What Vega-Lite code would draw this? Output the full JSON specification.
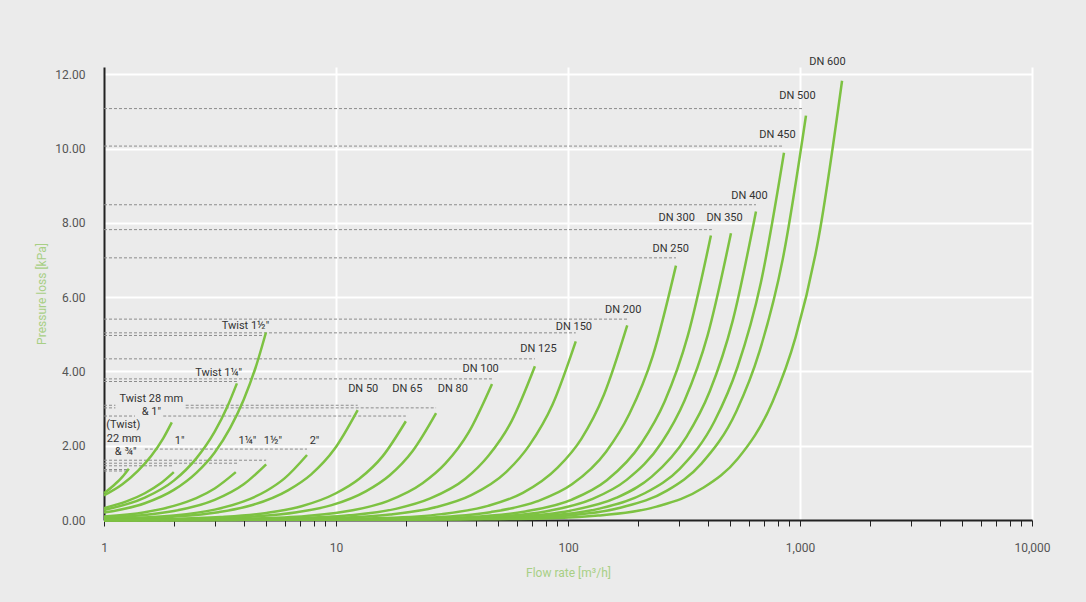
{
  "$schema": "https://vega.github.io/schema/vega-lite/v6.json",
  "width": 928,
  "height": 453,
  "autosize": {"type": "none"},
  "padding": {"left": 104, "top": 67, "right": 54, "bottom": 82},
  "background": "#ebebeb",
  "config": {"view": {"stroke": null}, "font": "Roboto"},
  "datasets": {
    "leaders": [
      {"q": 1, "q2": 1040, "p": 11.08},
      {"q": 1, "q2": 853, "p": 10.07},
      {"q": 1, "q2": 646, "p": 8.49},
      {"q": 1, "q2": 417, "p": 7.82},
      {"q": 1, "q2": 292, "p": 7.06},
      {"q": 1, "q2": 180, "p": 5.41},
      {"q": 1, "q2": 108, "p": 5.04},
      {"q": 1, "q2": 4.99, "p": 4.97},
      {"q": 1, "q2": 72, "p": 4.34},
      {"q": 1, "q2": 47, "p": 3.8},
      {"q": 1, "q2": 3.74, "p": 3.73},
      {"q": 1, "q2": 1.12, "p": 3.09},
      {"q": 2.25, "q2": 12.4, "p": 3.09},
      {"q": 1, "q2": 1.12, "p": 3.02},
      {"q": 2.25, "q2": 27, "p": 3.02},
      {"q": 1, "q2": 1.36, "p": 2.8},
      {"q": 1.8, "q2": 20, "p": 2.8},
      {"q": 1.5, "q2": 7.5, "p": 1.91},
      {"q": 1, "q2": 5, "p": 1.61},
      {"q": 1, "q2": 3.8, "p": 1.53},
      {"q": 1, "q2": 2, "p": 1.46},
      {"q": 1, "q2": 1.28, "p": 1.36},
      {"q": 1, "q2": 1.28, "p": 1.32}
    ],
    "labels": [
      {"t": "DN 600", "q": 1313, "p": 12.34},
      {"t": "DN 500", "q": 975, "p": 11.42},
      {"t": "DN 450", "q": 800, "p": 10.38},
      {"t": "DN 400", "q": 606, "p": 8.73},
      {"t": "DN 300", "q": 294, "p": 8.13},
      {"t": "DN 350", "q": 473, "p": 8.13},
      {"t": "DN 250", "q": 277, "p": 7.3},
      {"t": "DN 200", "q": 173, "p": 5.65},
      {"t": "DN 150", "q": 106, "p": 5.19},
      {"t": "DN 125", "q": 74.6, "p": 4.6},
      {"t": "DN 100", "q": 42, "p": 4.08},
      {"t": "DN 50", "q": 13.1, "p": 3.52},
      {"t": "DN 65", "q": 20.3, "p": 3.52},
      {"t": "DN 80", "q": 31.9, "p": 3.52},
      {"t": "Twist 1½\"", "q": 4.07, "p": 5.22},
      {"t": "Twist 1¼\"", "q": 3.12, "p": 3.95},
      {"t": "Twist 28 mm", "q": 1.6, "p": 3.25},
      {"t": "& 1\"", "q": 1.6, "p": 2.9},
      {"t": "(Twist)", "q": 1.21, "p": 2.56},
      {"t": "22 mm", "q": 1.22, "p": 2.18},
      {"t": "& ¾\"", "q": 1.24, "p": 1.83},
      {"t": "1\"", "q": 2.12, "p": 2.12},
      {"t": "1¼\"", "q": 4.15, "p": 2.12},
      {"t": "1½\"", "q": 5.35, "p": 2.12},
      {"t": "2\"", "q": 8.08, "p": 2.12}
    ],
    "curves": [
      {"s": "T22", "q": 1, "p": 0.72}, {"s": "T22", "q": 1.1, "p": 0.93}, {"s": "T22", "q": 1.2, "p": 1.16}, {"s": "T22", "q": 1.28, "p": 1.38},
      {"s": "T28", "q": 1, "p": 0.66}, {"s": "T28", "q": 1.2, "p": 0.96}, {"s": "T28", "q": 1.4, "p": 1.32}, {"s": "T28", "q": 1.6, "p": 1.73}, {"s": "T28", "q": 1.8, "p": 2.2}, {"s": "T28", "q": 1.96, "p": 2.63},
      {"s": "I1", "q": 1, "p": 0.32}, {"s": "I1", "q": 1.25, "p": 0.5}, {"s": "I1", "q": 1.5, "p": 0.72}, {"s": "I1", "q": 1.75, "p": 0.98}, {"s": "I1", "q": 2, "p": 1.29},
      {"s": "T114", "q": 1, "p": 0.27}, {"s": "T114", "q": 1.5, "p": 0.6}, {"s": "T114", "q": 2, "p": 1.06}, {"s": "T114", "q": 2.5, "p": 1.66}, {"s": "T114", "q": 3, "p": 2.38}, {"s": "T114", "q": 3.4, "p": 3.05}, {"s": "T114", "q": 3.74, "p": 3.68},
      {"s": "T112", "q": 1, "p": 0.2}, {"s": "T112", "q": 1.5, "p": 0.45}, {"s": "T112", "q": 2, "p": 0.81}, {"s": "T112", "q": 2.5, "p": 1.27}, {"s": "T112", "q": 3, "p": 1.82}, {"s": "T112", "q": 3.5, "p": 2.48}, {"s": "T112", "q": 4, "p": 3.24}, {"s": "T112", "q": 4.5, "p": 4.1}, {"s": "T112", "q": 4.99, "p": 5.05},
      {"s": "I114", "q": 1, "p": 0.094}, {"s": "I114", "q": 1.5, "p": 0.21}, {"s": "I114", "q": 2, "p": 0.38}, {"s": "I114", "q": 2.5, "p": 0.59}, {"s": "I114", "q": 3, "p": 0.85}, {"s": "I114", "q": 3.7, "p": 1.29},
      {"s": "I112", "q": 1, "p": 0.06}, {"s": "I112", "q": 2, "p": 0.24}, {"s": "I112", "q": 3, "p": 0.54}, {"s": "I112", "q": 4, "p": 0.96}, {"s": "I112", "q": 5, "p": 1.5},
      {"s": "I2", "q": 1, "p": 0.031}, {"s": "I2", "q": 2, "p": 0.124}, {"s": "I2", "q": 3, "p": 0.28}, {"s": "I2", "q": 4, "p": 0.5}, {"s": "I2", "q": 5, "p": 0.78}, {"s": "I2", "q": 6, "p": 1.12}, {"s": "I2", "q": 7.5, "p": 1.75},
      {"s": "DN50", "q": 1, "p": 0.02}, {"s": "DN50", "q": 1.1, "p": 0.03}, {"s": "DN50", "q": 1.97, "p": 0.089}, {"s": "DN50", "q": 3.11, "p": 0.21}, {"s": "DN50", "q": 4.4, "p": 0.41}, {"s": "DN50", "q": 6.21, "p": 0.8}, {"s": "DN50", "q": 7.82, "p": 1.23}, {"s": "DN50", "q": 9.85, "p": 1.91}, {"s": "DN50", "q": 12.4, "p": 2.96},
      {"s": "DN65", "q": 1, "p": 0.01}, {"s": "DN65", "q": 1.78, "p": 0.027}, {"s": "DN65", "q": 3.17, "p": 0.08}, {"s": "DN65", "q": 5.02, "p": 0.19}, {"s": "DN65", "q": 7.1, "p": 0.37}, {"s": "DN65", "q": 10, "p": 0.72}, {"s": "DN65", "q": 12.6, "p": 1.11}, {"s": "DN65", "q": 15.9, "p": 1.72}, {"s": "DN65", "q": 20, "p": 2.66},
      {"s": "DN80", "q": 1, "p": 0.006}, {"s": "DN80", "q": 2.41, "p": 0.029}, {"s": "DN80", "q": 4.28, "p": 0.087}, {"s": "DN80", "q": 6.78, "p": 0.21}, {"s": "DN80", "q": 9.58, "p": 0.4}, {"s": "DN80", "q": 13.5, "p": 0.78}, {"s": "DN80", "q": 17, "p": 1.2}, {"s": "DN80", "q": 21.4, "p": 1.86}, {"s": "DN80", "q": 27, "p": 2.88},
      {"s": "DN100", "q": 1, "p": 0}, {"s": "DN100", "q": 1.87, "p": 0.008}, {"s": "DN100", "q": 4.19, "p": 0.037}, {"s": "DN100", "q": 7.45, "p": 0.11}, {"s": "DN100", "q": 11.8, "p": 0.26}, {"s": "DN100", "q": 16.7, "p": 0.51}, {"s": "DN100", "q": 23.6, "p": 0.99}, {"s": "DN100", "q": 29.7, "p": 1.53}, {"s": "DN100", "q": 37.3, "p": 2.36}, {"s": "DN100", "q": 47, "p": 3.66},
      {"s": "DN125", "q": 1, "p": 0}, {"s": "DN125", "q": 2.87, "p": 0.009}, {"s": "DN125", "q": 6.42, "p": 0.042}, {"s": "DN125", "q": 11.4, "p": 0.125}, {"s": "DN125", "q": 18.1, "p": 0.3}, {"s": "DN125", "q": 25.5, "p": 0.58}, {"s": "DN125", "q": 36.1, "p": 1.11}, {"s": "DN125", "q": 45.4, "p": 1.73}, {"s": "DN125", "q": 57.2, "p": 2.67}, {"s": "DN125", "q": 72, "p": 4.14},
      {"s": "DN150", "q": 1, "p": 0}, {"s": "DN150", "q": 4.3, "p": 0.011}, {"s": "DN150", "q": 9.62, "p": 0.049}, {"s": "DN150", "q": 17.1, "p": 0.145}, {"s": "DN150", "q": 27.1, "p": 0.35}, {"s": "DN150", "q": 38.3, "p": 0.67}, {"s": "DN150", "q": 54.1, "p": 1.29}, {"s": "DN150", "q": 68.1, "p": 2.01}, {"s": "DN150", "q": 85.8, "p": 3.11}, {"s": "DN150", "q": 108, "p": 4.81},
      {"s": "DN200", "q": 1, "p": 0}, {"s": "DN200", "q": 7.16, "p": 0.012}, {"s": "DN200", "q": 16, "p": 0.053}, {"s": "DN200", "q": 28.5, "p": 0.158}, {"s": "DN200", "q": 45.2, "p": 0.38}, {"s": "DN200", "q": 63.9, "p": 0.73}, {"s": "DN200", "q": 90.2, "p": 1.41}, {"s": "DN200", "q": 114, "p": 2.18}, {"s": "DN200", "q": 143, "p": 3.38}, {"s": "DN200", "q": 180, "p": 5.24},
      {"s": "DN250", "q": 1, "p": 0}, {"s": "DN250", "q": 11.6, "p": 0.015}, {"s": "DN250", "q": 26, "p": 0.069}, {"s": "DN250", "q": 46.3, "p": 0.21}, {"s": "DN250", "q": 73.4, "p": 0.5}, {"s": "DN250", "q": 104, "p": 0.96}, {"s": "DN250", "q": 146, "p": 1.84}, {"s": "DN250", "q": 184, "p": 2.86}, {"s": "DN250", "q": 232, "p": 4.42}, {"s": "DN250", "q": 292, "p": 6.85},
      {"s": "DN300", "q": 1, "p": 0}, {"s": "DN300", "q": 16.4, "p": 0.017}, {"s": "DN300", "q": 36.8, "p": 0.077}, {"s": "DN300", "q": 65.5, "p": 0.23}, {"s": "DN300", "q": 104, "p": 0.55}, {"s": "DN300", "q": 147, "p": 1.07}, {"s": "DN300", "q": 207, "p": 2.06}, {"s": "DN300", "q": 261, "p": 3.19}, {"s": "DN300", "q": 328, "p": 4.95}, {"s": "DN300", "q": 413, "p": 7.66},
      {"s": "DN350", "q": 1, "p": 0}, {"s": "DN350", "q": 20.1, "p": 0.017}, {"s": "DN350", "q": 44.9, "p": 0.078}, {"s": "DN350", "q": 79.9, "p": 0.23}, {"s": "DN350", "q": 127, "p": 0.56}, {"s": "DN350", "q": 179, "p": 1.08}, {"s": "DN350", "q": 253, "p": 2.08}, {"s": "DN350", "q": 318, "p": 3.22}, {"s": "DN350", "q": 400, "p": 4.98}, {"s": "DN350", "q": 504, "p": 7.72},
      {"s": "DN400", "q": 1, "p": 0}, {"s": "DN400", "q": 25.7, "p": 0.018}, {"s": "DN400", "q": 57.6, "p": 0.084}, {"s": "DN400", "q": 102, "p": 0.25}, {"s": "DN400", "q": 162, "p": 0.6}, {"s": "DN400", "q": 229, "p": 1.16}, {"s": "DN400", "q": 324, "p": 2.24}, {"s": "DN400", "q": 408, "p": 3.46}, {"s": "DN400", "q": 513, "p": 5.37}, {"s": "DN400", "q": 646, "p": 8.31},
      {"s": "DN450", "q": 1, "p": 0}, {"s": "DN450", "q": 33.9, "p": 0.022}, {"s": "DN450", "q": 76, "p": 0.1}, {"s": "DN450", "q": 135, "p": 0.3}, {"s": "DN450", "q": 214, "p": 0.72}, {"s": "DN450", "q": 303, "p": 1.38}, {"s": "DN450", "q": 428, "p": 2.66}, {"s": "DN450", "q": 538, "p": 4.12}, {"s": "DN450", "q": 678, "p": 6.39}, {"s": "DN450", "q": 853, "p": 9.89},
      {"s": "DN500", "q": 1, "p": 0}, {"s": "DN500", "q": 42.2, "p": 0.024}, {"s": "DN500", "q": 94.5, "p": 0.11}, {"s": "DN500", "q": 168, "p": 0.33}, {"s": "DN500", "q": 267, "p": 0.79}, {"s": "DN500", "q": 376, "p": 1.52}, {"s": "DN500", "q": 532, "p": 2.93}, {"s": "DN500", "q": 669, "p": 4.54}, {"s": "DN500", "q": 843, "p": 7.03}, {"s": "DN500", "q": 1061, "p": 10.89},
      {"s": "DN600", "q": 1, "p": 0}, {"s": "DN600", "q": 60.4, "p": 0.026}, {"s": "DN600", "q": 135, "p": 0.12}, {"s": "DN600", "q": 241, "p": 0.36}, {"s": "DN600", "q": 381, "p": 0.86}, {"s": "DN600", "q": 539, "p": 1.65}, {"s": "DN600", "q": 761, "p": 3.18}, {"s": "DN600", "q": 958, "p": 4.93}, {"s": "DN600", "q": 1206, "p": 7.64}, {"s": "DN600", "q": 1518, "p": 11.83}
    ]
  },
  "encoding": {
    "x": {
      "field": "q",
      "type": "quantitative",
      "scale": {"type": "log", "domain": [1, 10000], "nice": false},
      "axis": {
        "title": "Flow rate [m³/h]",
        "values": [1,2,3,4,5,6,7,8,9,10,20,30,40,50,60,70,80,90,100,200,300,400,500,600,700,800,900,1000,2000,3000,4000,5000,6000,7000,8000,9000,10000],
        "format": ",",
        "labelExpr": "indexof([1,10,100,1000,10000], datum.value) >= 0 ? datum.label : ''",
        "labelOverlap": false,
        "labelFlush": false,
        "labelBound": false,
        "labelFontSize": 12,
        "labelColor": "#555555",
        "labelPadding": 16,
        "tickColor": "#222222",
        "tickSize": 6,
        "tickWidth": 1,
        "domainColor": "#222222",
        "domainWidth": 2,
        "grid": true,
        "gridColor": "#ffffff",
        "gridWidth": 2,
        "gridOpacity": {"condition": {"test": "indexof([10,100,1000,10000], datum.value) >= 0", "value": 1}, "value": 0},
        "titleColor": "#a8cf85",
        "titleFontSize": 12,
        "titleFontWeight": "normal",
        "titlePadding": 14
      }
    },
    "y": {
      "field": "p",
      "type": "quantitative",
      "scale": {"domain": [0, 12.2], "nice": false},
      "axis": {
        "title": "Pressure loss [kPa]",
        "values": [0, 2, 4, 6, 8, 10, 12],
        "format": ".2f",
        "ticks": false,
        "labelPadding": 19,
        "labelFontSize": 12,
        "labelColor": "#555555",
        "domainColor": "#222222",
        "domainWidth": 2,
        "grid": true,
        "gridColor": "#ffffff",
        "gridWidth": 2,
        "gridOpacity": {"condition": {"test": "datum.value > 0", "value": 1}, "value": 0},
        "titleColor": "#a8cf85",
        "titleFontSize": 12,
        "titleFontWeight": "normal",
        "titlePadding": 6
      }
    }
  },
  "layer": [
    {
      "data": {"name": "leaders"},
      "mark": {"type": "rule", "strokeDash": [3, 2], "color": "#8c8c8c", "strokeWidth": 1},
      "encoding": {"x2": {"field": "q2"}}
    },
    {
      "data": {"name": "curves"},
      "mark": {"type": "line", "interpolate": "monotone", "strokeWidth": 2.5, "color": "#7dc242"},
      "encoding": {"detail": {"field": "s", "type": "nominal"}}
    },
    {
      "data": {"name": "labels"},
      "mark": {"type": "text", "fontSize": 11, "color": "#333333", "align": "center", "baseline": "middle"},
      "encoding": {"text": {"field": "t", "type": "nominal"}}
    }
  ]
}
